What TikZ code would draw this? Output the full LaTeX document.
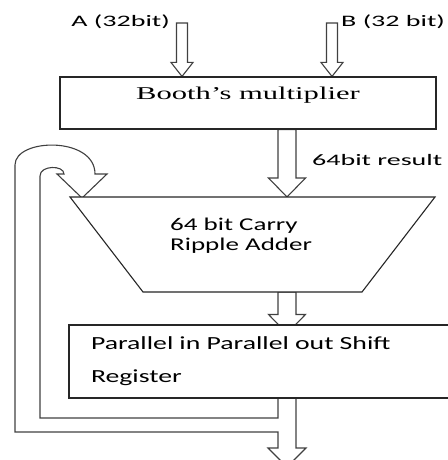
\documentclass[tikz,border=0pt]{standalone}
\usepackage{fontspec}
\setmainfont{Carlito}
\newfontfamily\lblfont{Carlito}[FakeStretch=1.75]
\newfontfamily\boxfont{Carlito}[FakeStretch=1.5]
\newfontfamily\boothfont{Liberation Serif}[FakeStretch=1.7]
\usetikzlibrary{calc,backgrounds}

\begin{document}
\begin{tikzpicture}[
    x=1pt, y=-1pt,
    blk/.style={draw=black!85,line width=1.1pt,fill=white,rectangle,inner sep=0pt},
    lbl/.style={font=\lblfont\fontsize{16}{18}\selectfont,inner sep=0pt},
    txt/.style={font=\boxfont\fontsize{18.5}{20}\selectfont,inner sep=0pt,align=left},
    outl/.style={draw=black!75,line width=1.1pt},
    fat/.style n args={3}{outl,fill=white,to path={
        let \p1=(\tikztostart), \p2=(\tikztotarget) in
        (\x1-#1,\y1) -- (\x1-#1,\y2+#3) -- (\x1-#2,\y2+#3) -- (\x1,\y2)
        -- (\x1+#2,\y2+#3) -- (\x1+#1,\y2+#3) -- (\x1+#1,\y1) -- cycle}},
]
    \useasboundingbox (0,0) rectangle (447,460);

    \node[blk,minimum width=376pt,text height=22pt,text depth=30pt,
        font=\boothfont\fontsize{18}{20}\selectfont] (booth) at (248,103) {Booth’s multiplier};
    \node[blk,minimum width=386pt,minimum height=73pt,text width=342pt,
        font=\boxfont\fontsize{18.5}{33}\selectfont,align=left,inner xsep=22pt] (reg) at (262,361.5)
        {Parallel in Parallel out Shift\\Register};

    % adder outline
    \coordinate (addtop) at (287,197);
    \coordinate (addbot) at (287,292);
    \draw[blk] (70,197) -- (435,197) -- (362,292) -- (143,292) -- cycle;
    \node[txt,font=\boxfont\fontsize{18}{20}\selectfont,anchor=west] (adder) at (170,236)
        {64 bit Carry\\Ripple Adder};

    \node[lbl,anchor=base east] (alab) at (170,27) {A (32bit)};
    \node[lbl,anchor=base west] (blab) at (341,27) {B (32 bit)};
    \node[lbl,anchor=base west] (reslab) at (312,165) {64bit result};

    \coordinate (ain) at (182,23);
    \coordinate (bin) at (332,23);
    \coordinate (mid) at (287,0);
    \coordinate (fbin) at (40,418);
    \coordinate (fbout) at (15,432);

    \begin{scope}[on background layer]
    \draw[fat={5.5pt}{11pt}{14pt}] (ain) to (ain |- booth.north);
    \draw[fat={5.5pt}{11pt}{14pt}] (bin) to (bin |- booth.north);
    \draw[fat={9pt}{18.5pt}{19pt}] (mid |- booth.south) to (mid |- addtop);
    \draw[fat={9pt}{18.5pt}{19pt}] (mid |- addbot) to ($(mid |- reg.north)+(0,9)$);
    % output and feedback loop
    \draw[outl] ($(mid |- reg.south)+(-9,0)$) |- (fbin) -- (40,176)
        .. controls (40,165) and (64,165) .. (64,174) -- (57,174) -- (82,198)
        -- (107,174) -- (95,174) .. controls (95,136) and (15,138) .. (15,165)
        -- (fbout) -- ($(mid |- fbout)+(-9,0)$) -- ++(0,16) -- ++(-10,0)
        -- ($(mid)+(0,467)$) -- ++(19,-19) -- ++(-10,0) -- ($(mid |- reg.south)+(9,0)$);
    \end{scope}

\end{tikzpicture}
\end{document}
